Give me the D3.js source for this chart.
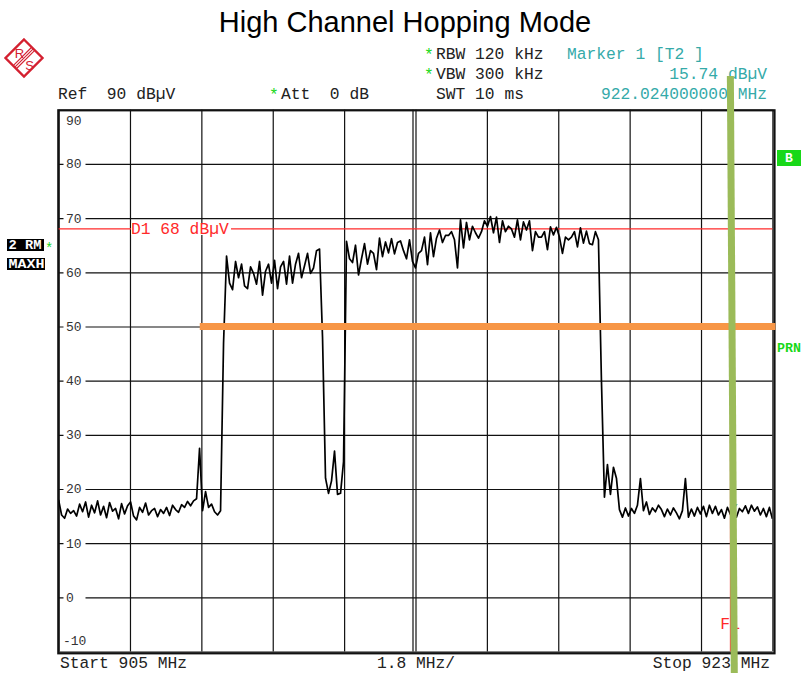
<!DOCTYPE html>
<html>
<head>
<meta charset="utf-8">
<script src="https://cdn.jsdelivr.net/npm/d3@7"></script>
<style>
  html, body { margin: 0; padding: 0; background: #fff; }
  svg { display: block; }
  text { white-space: pre; }
</style>
</head>
<body>
<svg id="chart" width="801" height="673"></svg>
<script>
// ---- analyzer settings ----
const title = "High Channel Hopping Mode";
const startMHz = 905, stopMHz = 923, spanPerDivMHz = 1.8;
const levelTicks = [90, 80, 70, 60, 50, 40, 30, 20, 10, 0, -10];
const displayLineLevel = 68;          // D1
const limitLevel = 50;                // orange limit line
const limitStartMHz = 908.56;
const markerFreqMHz = 922.024, markerLevel = 15.74;
const f1FreqMHz = 921.94;

const headerLeft = ["Ref  90 dBµV", "Att  0 dB"];
const headerMid = ["RBW 120 kHz", "VBW 300 kHz", "SWT 10 ms"];
const markerText = ["Marker 1 [T2 ]", "15.74 dBµV", "922.024000000 MHz"];
const footerText = ["Start 905 MHz", "1.8 MHz/", "Stop 923 MHz"];
const traceTags = ["2 RM", "MAXH"];
const rightTags = ["B", "PRN"];

// ---- max-hold trace, dBµV, equally spaced sweep points from start to stop ----
const traceLevels = [
  18.0, 15.2, 14.6, 16.3, 15.5, 16.0, 15.0, 17.2, 15.8, 17.6,
  14.8, 17.0, 15.6, 17.8, 15.2, 16.8, 14.7, 17.5, 15.9, 16.4,
  14.5, 17.3, 15.4, 16.9, 17.6, 15.0, 14.3, 16.6, 15.7, 17.4,
  15.2, 16.0, 16.4, 14.9, 16.2, 15.5, 16.6, 15.1, 17.0, 16.2,
  15.7, 17.1, 16.6, 17.7, 16.9, 17.8, 18.2, 27.5, 16.0, 19.5,
  16.6, 17.2, 15.8, 15.2, 16.0, 47.0, 63.0, 58.0, 56.8, 62.0,
  59.0, 61.5, 57.5, 57.0, 61.0, 59.8, 57.8, 62.0, 55.8, 60.2,
  61.5, 58.0, 62.2, 57.0, 61.0, 62.0, 57.8, 63.0, 58.0, 61.5,
  63.5, 59.0, 61.2, 63.5, 59.8, 60.8, 64.0, 64.3, 48.0, 22.0,
  19.2, 21.5, 27.0, 19.0, 19.2, 25.0, 65.7, 62.5, 61.8, 65.0,
  59.5, 62.5, 65.3, 61.5, 64.0, 63.5, 60.5, 66.3, 62.9, 65.6,
  63.6, 66.2, 63.4, 65.5, 65.8, 64.0, 62.5, 66.0, 62.0, 60.8,
  63.5, 64.0, 66.5, 61.4, 67.3, 62.9, 66.3, 67.8, 65.5, 66.8,
  66.8, 67.5, 66.0, 60.8, 69.7, 64.5, 69.2, 66.0, 68.5, 67.3,
  66.3, 67.5, 69.5, 68.5, 70.3, 67.3, 70.2, 65.5, 69.5, 67.5,
  68.5, 68.0, 66.5, 69.7, 66.0, 69.3, 67.8, 69.5, 64.0, 67.5,
  66.5, 66.5, 67.5, 64.2, 68.4, 66.9, 68.3, 66.5, 63.5, 66.5,
  66.0, 66.5, 67.5, 64.7, 68.2, 65.4, 67.6, 65.3, 65.1, 67.5,
  66.0, 40.0, 18.5, 24.5, 19.0, 24.0, 22.0, 16.2, 14.8, 16.5,
  15.0, 16.4, 15.5, 17.0, 21.9, 16.0, 17.6, 15.3, 16.5, 15.8,
  17.0, 16.2, 14.9, 16.3, 15.2, 16.5, 15.6, 14.5, 16.0, 21.9,
  14.8, 16.3, 15.0, 16.6, 15.4, 16.8, 14.9, 17.0, 15.5, 16.8,
  15.2, 16.2, 14.6, 16.6, 15.3, 15.74, 14.8, 16.4, 15.8, 16.9,
  15.5, 17.0, 15.9, 16.7, 15.2, 16.4, 14.9, 16.6, 14.5
];

// ---- layout ----
const MONO = "'Liberation Mono','Courier New',monospace";
const SANS = "'Liberation Sans',Arial,sans-serif";
const plot = { left: 58.6, right: 772.4, top: 109.8, bottom: 651.5 };
const TEAL = "#35aaa9", GREEN = "#18d818", RED = "#ff2a2a", ORANGE = "#f79646", BAR = "#9bbb59";

const svg = d3.select("#chart");

const x = d3.scaleLinear().domain([startMHz, stopMHz]).range([plot.left, plot.right]);
const y = d3.scaleLinear().domain([-10, 90]).range([plot.bottom, plot.top]);

// title
svg.append("text")
  .attr("x", 405).attr("y", 32).attr("text-anchor", "middle")
  .style("font-family", SANS).style("font-size", "29px").attr("fill", "#000")
  .text(title);

// R&S logo
const logo = svg.append("g").attr("transform", "translate(24,58)");
logo.append("path").attr("d", "M0,-18.5 L18.5,0 L0,18.5 L-18.5,0 Z")
  .attr("fill", "#fff").attr("stroke", "#d42030").attr("stroke-width", 2.4);
[-2.2, 0, 2.2].forEach(o => {
  logo.append("line")
    .attr("x1", 9.2 + o * 0.707).attr("y1", -9.2 + o * 0.707)
    .attr("x2", -9.2 + o * 0.707).attr("y2", 9.2 + o * 0.707)
    .attr("stroke", "#d42030").attr("stroke-width", 1.1);
});
logo.append("text").attr("x", -4.5).attr("y", 0).attr("text-anchor", "middle")
  .style("font-family", SANS).style("font-size", "13px").attr("fill", "#d42030").text("R");
logo.append("text").attr("x", 5.5).attr("y", 11.5).attr("text-anchor", "middle")
  .style("font-family", SANS).style("font-size", "13px").attr("fill", "#d42030").text("S");

// header lines
function mono(sel, tx, ty, str, color, anchor, size) {
  return sel.append("text").attr("x", tx).attr("y", ty)
    .attr("text-anchor", anchor || "start")
    .attr("xml:space", "preserve")
    .style("font-family", MONO).style("font-size", (size || 16.3) + "px")
    .attr("fill", color || "#222").text(str);
}
const rowY = [59, 79, 98.5];
mono(svg, 58, rowY[2], headerLeft[0]);
mono(svg, 269, rowY[2] + 1, "*", GREEN);
mono(svg, 281, rowY[2], headerLeft[1]);
mono(svg, 424, rowY[0] + 1, "*", GREEN);
mono(svg, 424, rowY[1] + 1, "*", GREEN);
headerMid.forEach((t, i) => mono(svg, 436, rowY[i], t));
mono(svg, 567, rowY[0], markerText[0], TEAL);
mono(svg, 767, rowY[1], markerText[1], TEAL, "end");
mono(svg, 767, rowY[2], markerText[2], TEAL, "end");

// footer
mono(svg, 60, 667.5, footerText[0]);
mono(svg, 416, 667.5, footerText[1], "#222", "middle");
mono(svg, 770, 667.5, footerText[2], "#222", "end");

// trace tags on the left
[[239, 37, 33], [258, 38, 36]].forEach(([ty, w, tl], i) => {
  svg.append("rect").attr("x", 7).attr("y", ty).attr("width", w).attr("height", 12).attr("fill", "#000");
  svg.append("text").attr("x", 8.5).attr("y", ty + 10)
    .attr("xml:space", "preserve")
    .style("font-family", MONO).style("font-size", "13px").style("font-weight", "bold")
    .attr("textLength", tl).attr("lengthAdjust", "spacingAndGlyphs")
    .attr("fill", "#fff").text(traceTags[i]);
});
mono(svg, 45, 253, "*", GREEN, "start", 14);

// tags on the right
svg.append("rect").attr("x", 777).attr("y", 150).attr("width", 24).attr("height", 16).attr("fill", GREEN);
svg.append("text").attr("x", 789).attr("y", 162).attr("text-anchor", "middle")
  .style("font-family", MONO).style("font-size", "13px").style("font-weight", "bold")
  .attr("fill", "#fff").text(rightTags[0]);
svg.append("text").attr("x", 777).attr("y", 352)
  .style("font-family", MONO).style("font-size", "13px").style("font-weight", "bold")
  .attr("textLength", 24).attr("lengthAdjust", "spacingAndGlyphs")
  .attr("fill", GREEN).text(rightTags[1]);

// ---- grid ----
const plotW = plot.right - plot.left, plotH = plot.bottom - plot.top;
const freqTicks = d3.range(0, 11).map(i => startMHz + i * spanPerDivMHz);

const gx = svg.append("g").attr("transform", `translate(0,${plot.top})`)
  .call(d3.axisBottom(x).tickValues(freqTicks).tickSize(plotH).tickSizeOuter(0).tickFormat(""));
gx.select(".domain").remove();
gx.selectAll(".tick line").attr("stroke", "#111").attr("stroke-width", 1.2);

// doubled centre line
svg.append("line")
  .attr("x1", x(startMHz + 5 * spanPerDivMHz) - 2.5).attr("x2", x(startMHz + 5 * spanPerDivMHz) - 2.5)
  .attr("y1", plot.top).attr("y2", plot.bottom).attr("stroke", "#111").attr("stroke-width", 1.2);

const gy = svg.append("g").attr("transform", `translate(${plot.left},0)`)
  .call(d3.axisRight(y).tickValues(levelTicks).tickSize(plotW).tickSizeOuter(0).tickFormat(""));
gy.select(".domain").remove();
gy.selectAll(".tick line").attr("stroke", "#111").attr("stroke-width", 1.2);

// level labels inside the grid
levelTicks.forEach(v => {
  const yy = y(v);
  let base = yy + 4.5, tx = 66;
  if (v === 90) base = yy + 15;
  if (v === -10) { base = yy - 7; tx = 63; }
  if (v !== 90 && v !== -10) {
    svg.append("rect").attr("x", 63.5).attr("y", yy - 5).attr("width", 22).attr("height", 10).attr("fill", "#fff");
  }
  mono(svg, tx, base, String(v), "#333", "start", 13);
});

// frame
svg.append("rect")
  .attr("x", 58.3).attr("y", 110.3).attr("width", 774.5 - 58.3).attr("height", 653.3 - 110.3)
  .attr("fill", "none").attr("stroke", "#111").attr("stroke-width", 2.2);

// ---- D1 display line ----
svg.append("line").attr("x1", plot.left).attr("x2", plot.right)
  .attr("y1", y(displayLineLevel)).attr("y2", y(displayLineLevel))
  .attr("stroke", RED).attr("stroke-width", 1.3);
svg.append("rect").attr("x", 131).attr("y", y(displayLineLevel) - 6).attr("width", 100).attr("height", 12).attr("fill", "#fff");
mono(svg, 131, y(displayLineLevel) + 4.8, "D1 " + displayLineLevel + " dBµV", RED);

// ---- trace ----
svg.append("clipPath").attr("id", "plotclip").append("rect")
  .attr("x", plot.left).attr("y", plot.top).attr("width", plotW).attr("height", plotH);
const n = traceLevels.length;
const sweepFreqs = traceLevels.map((_, i) => startMHz + i * (stopMHz - startMHz) / (n - 1));
const line = d3.line().x((d, i) => x(sweepFreqs[i])).y(d => y(d));
svg.append("path").datum(traceLevels)
  .attr("clip-path", "url(#plotclip)")
  .attr("d", line).attr("fill", "none")
  .attr("stroke", "#000").attr("stroke-width", 1.7).attr("stroke-linejoin", "round");

// ---- limit line ----
svg.append("line")
  .attr("x1", x(limitStartMHz)).attr("x2", plot.right + 3)
  .attr("y1", y(limitLevel)).attr("y2", y(limitLevel))
  .attr("stroke", ORANGE).attr("stroke-width", 7);

// ---- marker and frequency line ----
const mx = x(markerFreqMHz), my = y(markerLevel);
svg.append("path")
  .attr("d", `M${mx - 4},${my - 8} L${mx + 4},${my - 8} L${mx},${my - 1} Z`)
  .attr("fill", TEAL);

svg.append("line").attr("x1", x(f1FreqMHz)).attr("x2", x(f1FreqMHz))
  .attr("y1", plot.top).attr("y2", plot.bottom).attr("stroke", RED).attr("stroke-width", 1);
mono(svg, x(f1FreqMHz) - 10, 629, "F1", RED);

// highlight bar over the marker frequency
svg.append("line")
  .attr("x1", x(f1FreqMHz)).attr("y1", 76)
  .attr("x2", x(markerFreqMHz) + 0.6).attr("y2", 673)
  .attr("stroke", BAR).attr("stroke-width", 7);
</script>
</body>
</html>
